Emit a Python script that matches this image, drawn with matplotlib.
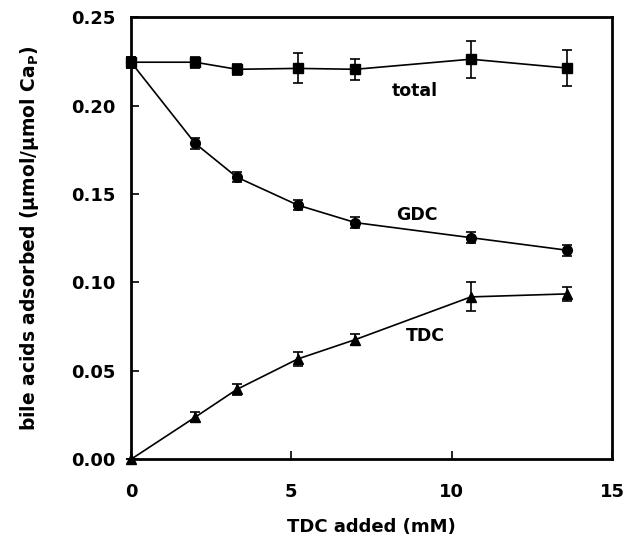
import numpy as np
import matplotlib.pyplot as plt

plt.rcParams['font.family'] = ['DejaVu Sans']
plt.rcParams['font.weight'] = 'bold'
plt.rcParams['mathtext.default'] = 'bf'

tdc_added = [0, 2, 3.3, 5.2, 7, 10.6, 13.6]

total = [0.2245, 0.2245, 0.2205, 0.221, 0.2205, 0.2262, 0.2212]
total_err = [0.003, 0.003, 0.003, 0.0085, 0.006, 0.0105, 0.0102]

gdc = [0.2245, 0.1786, 0.1595, 0.1437, 0.1338, 0.1253, 0.1182]
gdc_err = [0.003, 0.003, 0.003, 0.003, 0.003, 0.003, 0.003]

tdc = [0.0, 0.0238, 0.0395, 0.0567, 0.0677, 0.0918, 0.0935]
tdc_err = [0.0, 0.003, 0.003, 0.004, 0.003, 0.0082, 0.004]

fig = plt.figure(figsize=(6.27, 5.52), dpi=100)
ax = fig.add_axes([0.209, 0.168, 0.767, 0.801])

style = dict(color='black', lw=1.2, capsize=3.6, elinewidth=1.2, capthick=1.2, clip_on=False)
ax.errorbar(tdc_added, total, yerr=total_err, marker='s', ms=7, **style)
ax.errorbar(tdc_added, gdc, yerr=gdc_err, marker='o', ms=7, **style)
ax.errorbar(tdc_added, tdc, yerr=tdc_err, marker='^', ms=7, **style)

ax.text(8.86, 0.208, 'total', fontsize=12.5, fontweight='bold', ha='center', va='center')
ax.text(8.9, 0.138, 'GDC', fontsize=12.5, fontweight='bold', ha='center', va='center')
ax.text(9.17, 0.0697, 'TDC', fontsize=12.5, fontweight='bold', ha='center', va='center')

ax.set_xlim(0, 15)
ax.set_ylim(0, 0.25)
ax.set_xticks([0, 5, 10, 15])
ax.set_yticks([0, 0.05, 0.10, 0.15, 0.20, 0.25])
ax.set_yticklabels(['0.00', '0.05', '0.10', '0.15', '0.20', '0.25'])
ax.tick_params(direction='in', length=6, width=1.2, labelsize=13)
ax.tick_params(axis='x', pad=17)
ax.tick_params(axis='y', pad=11)
for lab in ax.get_xticklabels() + ax.get_yticklabels():
    lab.set_fontweight('bold')
for sp in ax.spines.values():
    sp.set_linewidth(2)

ax.set_xlabel('TDC added (mM)', fontsize=13, fontweight='bold', labelpad=12)
ax.set_ylabel('bile acids adsorbed (µmol/µmol Ca$_\\mathbf{P}$)', fontsize=13.5, fontweight='bold', labelpad=22)

fig.savefig('out.png', dpi=100)
